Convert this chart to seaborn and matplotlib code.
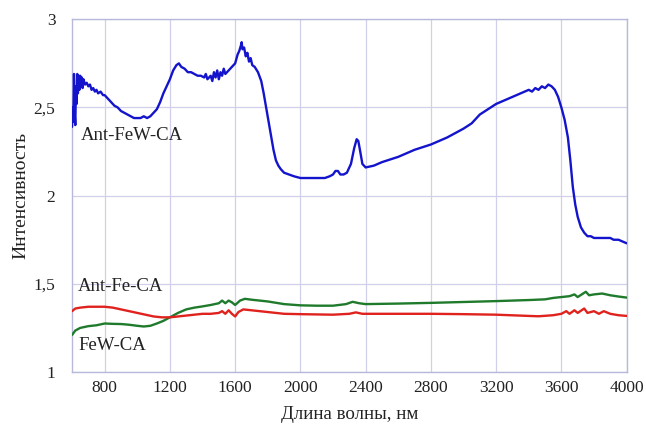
import matplotlib
matplotlib.use("Agg")
import matplotlib.pyplot as plt
import seaborn as sns
import pandas as pd
from matplotlib.ticker import FuncFormatter, MultipleLocator

# ---- data ----
x_fewca_ant = [600, 604, 608, 612, 616, 620, 624, 628, 632, 636, 640, 645, 650, 655, 660, 665, 670, 680, 690,
               700, 710, 720, 730, 740, 750, 760, 775, 790, 800, 820, 840, 860, 880, 900, 920, 940, 960, 980,
               1000, 1020, 1040, 1060, 1080, 1100, 1120, 1140, 1160, 1180, 1200, 1220, 1240, 1255, 1270, 1290,
               1310, 1330, 1350, 1370, 1390, 1410, 1420, 1430, 1450, 1460, 1470, 1480, 1490, 1500, 1510, 1520,
               1530, 1540, 1560, 1580, 1600, 1615, 1625, 1635, 1640, 1645, 1655, 1665, 1675, 1685, 1695, 1705,
               1720, 1740, 1760, 1775, 1790, 1805, 1820, 1835, 1850, 1865, 1880, 1900, 1930, 1960, 2000, 2050,
               2100, 2150, 2180, 2200, 2215, 2230, 2245, 2265, 2285, 2310, 2330, 2345, 2355, 2365, 2380, 2400,
               2450, 2500, 2600, 2700, 2800, 2900, 3000, 3050, 3100, 3150, 3200, 3250, 3300, 3350, 3400, 3420,
               3440, 3460, 3480, 3500, 3520, 3540, 3560, 3580, 3600, 3620, 3640, 3655, 3670, 3685, 3700, 3720,
               3740, 3760, 3780, 3800, 3850, 3900, 3920, 3950, 4000]
y_fewca_ant = [2.39, 2.50, 2.42, 2.69, 2.47, 2.40, 2.62, 2.52, 2.69, 2.58, 2.68, 2.60, 2.68, 2.62, 2.67, 2.61,
               2.66, 2.63, 2.64, 2.62, 2.63, 2.60, 2.61, 2.59, 2.60, 2.58, 2.59, 2.57, 2.57, 2.55, 2.53, 2.51,
               2.50, 2.48, 2.47, 2.46, 2.45, 2.44, 2.44, 2.44, 2.45, 2.44, 2.45, 2.47, 2.49, 2.53, 2.58, 2.62,
               2.66, 2.71, 2.74, 2.75, 2.73, 2.72, 2.70, 2.70, 2.69, 2.68, 2.68, 2.67, 2.69, 2.66, 2.68, 2.65,
               2.70, 2.67, 2.71, 2.66, 2.70, 2.68, 2.72, 2.69, 2.71, 2.73, 2.75, 2.80, 2.82, 2.85, 2.87, 2.83,
               2.84, 2.79, 2.81, 2.76, 2.78, 2.74, 2.73, 2.70, 2.65, 2.58, 2.50, 2.42, 2.34, 2.26, 2.20, 2.17,
               2.15, 2.13, 2.12, 2.11, 2.10, 2.10, 2.10, 2.10, 2.11, 2.12, 2.14, 2.14, 2.12, 2.12, 2.13, 2.18,
               2.27, 2.32, 2.31, 2.26, 2.18, 2.16, 2.17, 2.19, 2.22, 2.26, 2.29, 2.33, 2.38, 2.41, 2.46, 2.49,
               2.52, 2.54, 2.56, 2.58, 2.60, 2.59, 2.61, 2.60, 2.62, 2.61, 2.63, 2.62, 2.60, 2.56, 2.50, 2.43,
               2.33, 2.20, 2.05, 1.95, 1.88, 1.82, 1.79, 1.77, 1.77, 1.76, 1.76, 1.76, 1.75, 1.75, 1.73]

x_fe_ant = [600, 620, 650, 700, 750, 800, 850, 900, 950, 1000, 1050, 1100, 1150, 1200, 1250, 1300, 1350, 1400,
            1450, 1500, 1520, 1540, 1560, 1580, 1600, 1620, 1650, 1700, 1750, 1800, 1900, 2000, 2200, 2300, 2340,
            2380, 2600, 2800, 3000, 3200, 3400, 3460, 3550, 3600, 3630, 3650, 3680, 3700, 3740, 3760, 3800, 3830,
            3860, 3900, 3950, 4000]
y_fe_ant = [1.345, 1.36, 1.365, 1.37, 1.37, 1.37, 1.365, 1.355, 1.345, 1.335, 1.325, 1.315, 1.31, 1.31, 1.315,
            1.32, 1.325, 1.33, 1.33, 1.335, 1.345, 1.33, 1.35, 1.33, 1.315, 1.34, 1.355, 1.35, 1.345, 1.34, 1.33,
            1.328, 1.325, 1.33, 1.338, 1.33, 1.33, 1.33, 1.328, 1.325, 1.318, 1.316, 1.322, 1.33, 1.345, 1.33,
            1.35, 1.335, 1.36, 1.335, 1.345, 1.33, 1.345, 1.33, 1.322, 1.318]

x_few = [600, 620, 650, 700, 750, 800, 850, 900, 950, 1000, 1040, 1080, 1120, 1160, 1200, 1250, 1300, 1350, 1400,
         1450, 1500, 1520, 1540, 1560, 1580, 1600, 1630, 1660, 1700, 1750, 1800, 1900, 2000, 2100, 2200, 2280,
         2320, 2360, 2400, 2600, 2800, 3000, 3200, 3400, 3500, 3550, 3600, 3650, 3680, 3700, 3750, 3770, 3800,
         3850, 3900, 3950, 4000]
y_few = [1.21, 1.235, 1.25, 1.26, 1.265, 1.275, 1.273, 1.272, 1.268, 1.262, 1.258, 1.262, 1.275, 1.29, 1.31,
         1.335, 1.355, 1.365, 1.372, 1.38, 1.39, 1.405, 1.39, 1.405, 1.395, 1.38, 1.405, 1.415, 1.41, 1.405, 1.40,
         1.385, 1.378, 1.376, 1.376, 1.385, 1.398, 1.39, 1.385, 1.388, 1.392, 1.397, 1.402, 1.408, 1.412, 1.42,
         1.425, 1.43, 1.44, 1.425, 1.455, 1.435, 1.44, 1.445, 1.435, 1.428, 1.422]

labels = ["Ant-FeW-CA", "Ant-Fe-CA", "FeW-CA"]
x_ticks = [800, 1200, 1600, 2000, 2400, 2800, 3200, 3600, 4000]
y_ticks = [1, 1.5, 2, 2.5, 3]

sns.set_style("white")
plt.rcParams['font.family'] = ['Liberation Serif', 'DejaVu Serif']

fig = plt.figure(figsize=(6.46, 4.25), dpi=100)
ax = fig.add_axes([0.1115, 0.1247, 0.970 - 0.1115, 0.9546 - 0.1247])

grid_c = "#d0d0ea"
spine_c = "#b8b8dc"

sns.lineplot(x=x_fewca_ant, y=y_fewca_ant, ax=ax, color="#1414cc", linewidth=1.7, zorder=4)
sns.lineplot(x=x_few, y=y_few, ax=ax, color="#1f7a2c", linewidth=1.7, zorder=3)
sns.lineplot(x=x_fe_ant, y=y_fe_ant, ax=ax, color="#e0221e", linewidth=1.7, zorder=3)

ax.set_xlim(600, 4000)
ax.set_ylim(1, 3)
ax.set_xticks(x_ticks)
ax.set_yticks(y_ticks)
ax.yaxis.set_major_formatter(FuncFormatter(lambda v, p: ("%g" % v).replace(".", ",")))
ax.grid(True, color=grid_c, linewidth=0.9)
ax.set_axisbelow(True)
for s in ax.spines.values():
    s.set_color(spine_c)
    s.set_linewidth(1.0)
ax.tick_params(axis="both", length=0, labelsize=12.5, colors="#222222")
ax.tick_params(axis="y", pad=12)
ax.tick_params(axis="x", pad=6)

ax.set_xlabel("Длина волны, нм", fontsize=13.6, color="#222222", labelpad=7)
ax.set_ylabel("Интенсивность", fontsize=14, color="#222222", labelpad=3)

ax.text(655, 2.34, labels[0], fontsize=13.5, va="center", ha="left", color="#222222")
ax.text(637, 1.483, labels[1], fontsize=13.5, va="center", ha="left", color="#222222")
ax.text(640, 1.148, labels[2], fontsize=13.5, va="center", ha="left", color="#222222")

fig.savefig("out.png", dpi=100)
